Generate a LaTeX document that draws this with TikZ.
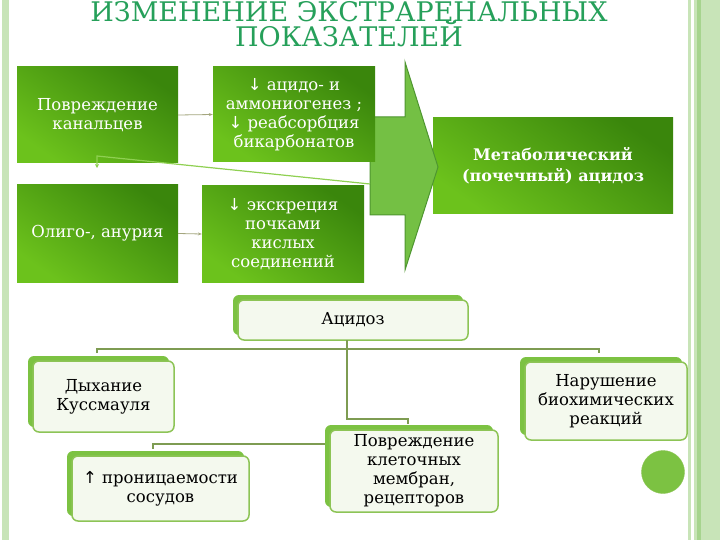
\documentclass[tikz,border=0pt]{standalone}
\usepackage{fontspec}
\setmainfont{DejaVu Serif}
\newfontfamily\arrfont{DejaVu Sans}
\usetikzlibrary{shadows,arrows.meta}
\definecolor{dkg}{HTML}{3A860C}
\definecolor{ltg}{HTML}{6CC21C}
\definecolor{titleg}{HTML}{26A05A}
\definecolor{shg}{HTML}{7CC242}
\definecolor{bord}{HTML}{8DC456}
\definecolor{lfill}{HTML}{F4F9EE}
\definecolor{conn}{HTML}{7E9C52}
\definecolor{arrg}{HTML}{74C044}
\definecolor{arre}{HTML}{4E9630}
\definecolor{stripe}{HTML}{C8E4B8}
\definecolor{stripe2}{HTML}{A6D48E}
\definecolor{thinl}{HTML}{8FD052}
\definecolor{sarrc}{HTML}{A4A67E}
\begin{document}
\begin{tikzpicture}[x=1pt,y=-1pt,
  txt/.style={font=\fontsize{16.5}{19}\selectfont, align=center, inner sep=0pt},
  gbox/.style={txt, text=white, draw=none, top color=dkg, bottom color=ltg, shading angle=-35},
  lbox/.style={txt, text=black, rounded corners=6pt, fill=lfill, draw=bord, line width=1.5pt,
    general shadow={fill=shg, shadow xshift=-5pt, shadow yshift=5pt}},
  conn/.style={draw=conn, line width=1.6pt},
  sarr/.style={draw=sarrc, line width=0.8pt, -{Stealth[length=4pt,width=3pt]}},
  lgline/.style={draw=thinl, line width=1.2pt, -{Stealth[length=4pt,width=4pt]}}
]
\useasboundingbox (0,0) rectangle (720,540);
\fill[white] (0,0) rectangle (720,540);
% borders
\fill[stripe] (2,0) rectangle (9,540);
\fill[stripe] (688,0) rectangle (691,540);
\fill[stripe] (694,0) rectangle (697,540);
\fill[stripe2] (697,0) rectangle (701,540);
\fill[stripe] (701,0) rectangle (720,540);
% title
\node[font=\fontsize{27}{25}\selectfont, text=titleg, anchor=base, inner sep=0pt] (t1) at (349,22) {ИЗМЕНЕНИЕ ЭКСТРАРЕНАЛЬНЫХ};
\node[font=\fontsize{27}{25}\selectfont, text=titleg, anchor=base, inner sep=0pt] (t2) at (349,47) {ПОКАЗАТЕЛЕЙ};
% metabolic box
\node[gbox, font=\fontsize{16}{21}\bfseries\selectfont, minimum width=240pt, minimum height=96pt] (M) at (553,166) {Метаболический\\(почечный) ацидоз};
% big arrow
\fill[arrg, draw=arre, line width=1pt] (370,117) -- (405,117) -- (405,62) -- (438,167) -- (405,270) -- (405,215) -- (370,215) -- cycle;
% top boxes
\node[gbox, minimum width=161pt, minimum height=96pt] (A) at (97.5,115) {Повреждение\\канальцев};
\node[gbox, minimum width=162pt, minimum height=95pt] (B) at (294,114.5) {{\arrfont↓} ацидо- и\\аммониогенез ;\\{\arrfont↓} реабсорбция\\бикарбонатов};
\node[gbox, minimum width=161pt, minimum height=97pt] (C) at (97.5,233.5) {Олиго-, анурия};
\node[gbox, minimum width=162pt, minimum height=96pt] (D) at (283,234) {{\arrfont↓} экскреция\\почками\\кислых\\соединений};
\draw[sarr] (A.east) -- (B.west);
\draw[sarr] (C.east) -- (D.west);
\coordinate (la) at (370,184);
\coordinate (lb) at (97,156);
\coordinate (lc) at (97,168);
\draw[lgline] (la) -- (lb) -- (lc);
% bottom boxes
\node[lbox, minimum width=230pt, minimum height=40pt] (acid) at (353,320) {Ацидоз};
\node[lbox, minimum width=141pt, minimum height=71pt] (kuss) at (103.5,396.5) {Дыхание\\Куссмауля};
\node[lbox, minimum width=162pt, minimum height=78pt] (narush) at (606,401) {Нарушение\\биохимических\\реакций};
\node[lbox, minimum width=177pt, minimum height=65pt] (pron) at (160.5,488.5) {{\arrfont↑} проницаемости\\сосудов};
\node[lbox, minimum width=168pt, minimum height=82pt] (povr) at (414,471) {Повреждение\\клеточных\\мембран,\\рецепторов};
% connectors
\coordinate (t0) at (347,340);
\coordinate (j0) at (347,349);
\coordinate (j1) at (347,419);
\coordinate (kt) at (97,353);
\coordinate (nt) at (599,353);
\coordinate (pt) at (408,424);
\coordinate (j2) at (325,444);
\coordinate (rt) at (153,449);
\draw[conn] (kt) -- (kt |- j0) -- (nt |- j0) -- (nt);
\draw[conn] (t0) -- (j1) -- (j1 -| pt) -- (pt);
\draw[conn] (j2) -- (j2 -| rt) -- (rt);
% circle
\node[circle, fill=shg, draw=bord, minimum size=43pt, inner sep=0pt] (dot) at (663,472) {};
\end{tikzpicture}
\end{document}
